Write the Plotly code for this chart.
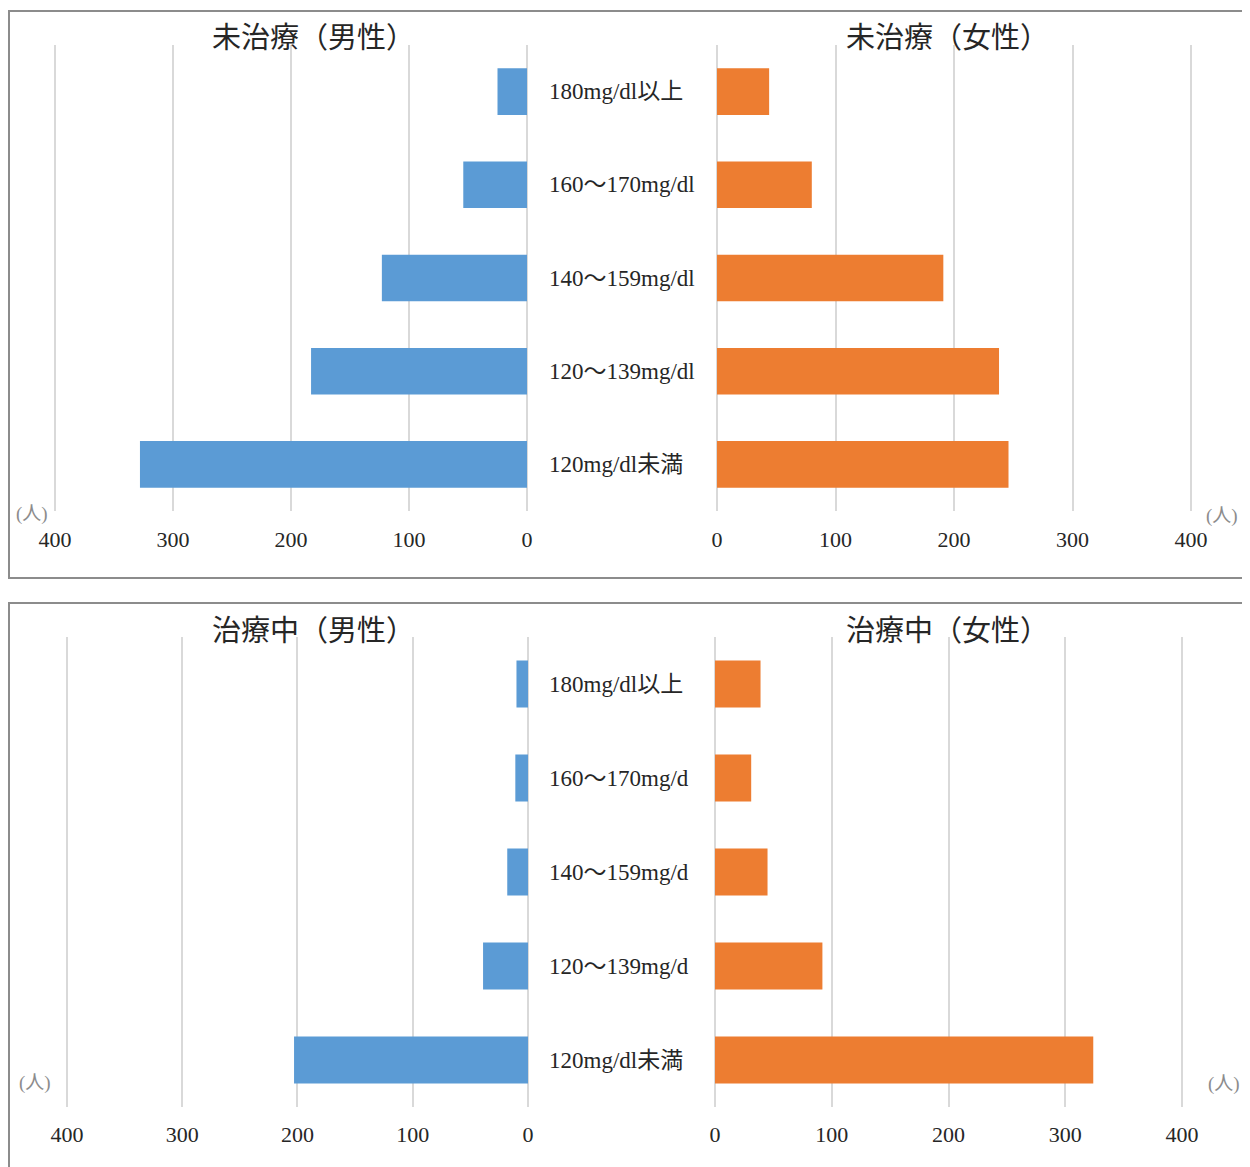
import plotly.graph_objects as go

# data
categories = ["180mg/dl以上", "160～170mg/dl", "140～159mg/dl", "120～139mg/dl", "120mg/dl未満"]
categories_b = ["180mg/dl以上", "160～170mg/d", "140～159mg/d", "120～139mg/d", "120mg/dl未満"]
untreated_male = [25, 54, 123, 183, 328]
untreated_female = [44, 80, 191, 238, 246]
treated_male = [10, 11, 18, 39, 203]
treated_female = [39, 31, 45, 92, 324]
tick_vals = [0, 100, 200, 300, 400]

W, H = 1250, 1167
OFF = 8  # page body margin
BLUE = "#5B9BD5"
ORANGE = "#ED7D31"
GRID = "#D9D9D9"
TXT = "#262626"
FONT = "Liberation Serif, Noto Sans CJK JP"


def px(x):
    return (x - OFF) / W


def py(y):
    return 1 - (y - OFF) / H


def xdom(zero_px, far_px, pad=2):
    # axis covers 0..400 between the two pixel positions, padded a bit
    lo, hi = sorted([zero_px, far_px])
    s = (hi - lo) / 400
    return [px(lo - pad * s), px(hi + pad * s)]


fig = go.Figure()

panels = [
    # (male vals, female vals, labels, left zero, left 400, right zero, right 400, ytop, ybot, titles)
    (untreated_male, untreated_female, categories, 527, 55, 717, 1191, 45, 511,
     ("未治療（男性）", "未治療（女性）"), 38, 540),
    (treated_male, treated_female, categories_b, 528, 67, 715, 1182, 637, 1107,
     ("治療中（男性）", "治療中（女性）"), 631, 1135),
]

layout = {}
n = 0
for p, (m, f, labels, lz, lf, rz, rf, yt, yb, titles, ty, tky) in enumerate(panels):
    cats = labels[::-1]
    for side, vals, color, z, far in [("l", m, BLUE, lz, lf), ("r", f, ORANGE, rz, rf)]:
        n += 1
        xa = "x" if n == 1 else f"x{n}"
        ya = "y" if n == 1 else f"y{n}"
        fig.add_trace(go.Bar(
            x=vals, y=labels, orientation="h", marker=dict(color=color, line=dict(width=0)),
            width=0.5, xaxis=xa, yaxis=ya, showlegend=False,
        ))
        key = "xaxis" if n == 1 else f"xaxis{n}"
        ykey = "yaxis" if n == 1 else f"yaxis{n}"
        rng = [402, -2] if side == "l" else [-2, 402]
        layout[key] = dict(
            domain=xdom(z, far), range=rng, anchor=ya, tickvals=tick_vals,
            showgrid=True, gridcolor=GRID, gridwidth=2, zeroline=False, showline=False,
            ticks="", tickfont=dict(family=FONT, size=22, color=TXT),
            ticklabelstandoff=13 if p == 0 else 12,
            automargin=False, fixedrange=True,
        )
        layout[ykey] = dict(
            domain=[py(yb), py(yt)], anchor=xa, type="category",
            categoryorder="array", categoryarray=cats, range=[-0.5, 4.5], automargin=False,
            showticklabels=False, showgrid=False, zeroline=False, showline=False, ticks="",
        )
        if side == "r":
            for lab in labels:
                fig.add_annotation(
                    x=px(547), xref="paper", y=lab, yref=ya, text=lab, showarrow=False,
                    xanchor="left", yanchor="middle", font=dict(family=FONT, size=23, color=TXT),
                )
    # titles
    for cx, t in zip([313, 947], titles):
        fig.add_annotation(x=px(cx), y=py(ty), xref="paper", yref="paper", text=t,
                           showarrow=False, xanchor="center", yanchor="middle",
                           font=dict(family=FONT, size=29, color=TXT))
    # unit labels
    for cx, cy in ([32, tky - 26], [1222, tky - 24]) if p == 0 else ([35, tky - 52], [1224, tky - 51]):
        fig.add_annotation(x=px(cx), y=py(cy), xref="paper", yref="paper", text="(人)",
                           showarrow=False, xanchor="center", yanchor="middle",
                           font=dict(family=FONT, size=19, color="#8C8C8C"))

# panel frames
fig.add_shape(type="rect", xref="paper", yref="paper", x0=px(9), x1=px(1252), y0=py(578), y1=py(11),
              line=dict(color="#8C8C8C", width=2))
fig.add_shape(type="rect", xref="paper", yref="paper", x0=px(9), x1=px(1252), y0=py(1170), y1=py(603),
              line=dict(color="#8C8C8C", width=2))

fig.update_layout(
    width=W, height=H, margin=dict(l=0, r=0, t=0, b=0, pad=0, autoexpand=False),
    plot_bgcolor="white", paper_bgcolor="white", bargap=0.5,
    **layout,
)

fig.write_html("out.html")
